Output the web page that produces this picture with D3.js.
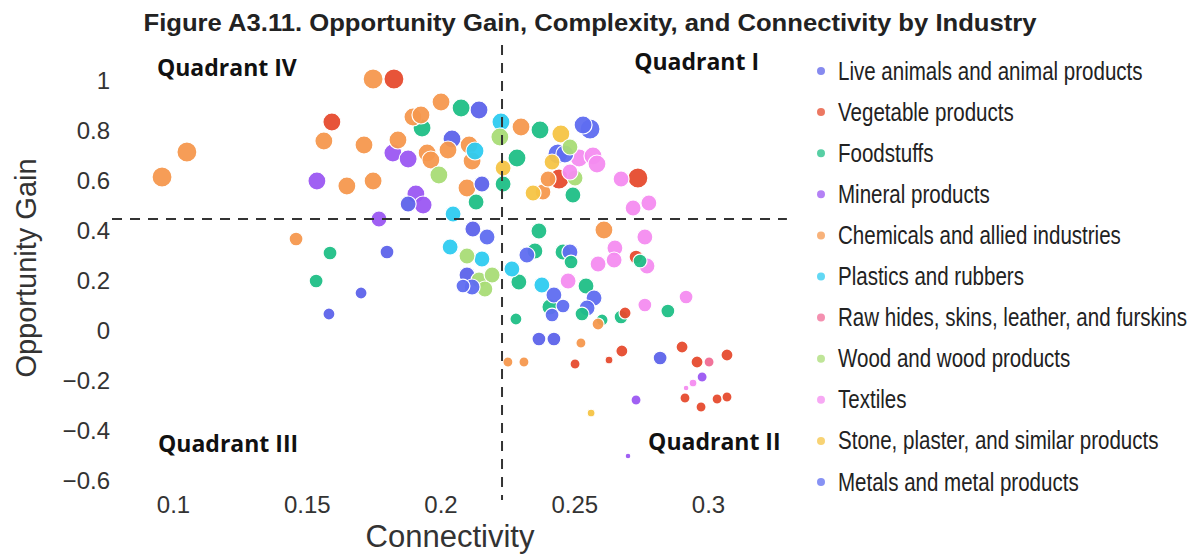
<!DOCTYPE html>
<html>
<head>
<meta charset="utf-8">
<script src="https://cdn.jsdelivr.net/npm/d3@7"></script>
<style>
  body { margin: 0; background: #fff; }
  text { font-family: "Liberation Sans", Arial, sans-serif; }
</style>
</head>
<body>
<svg id="chart"></svg>
<script>
'use strict';

const WIDTH = 1196;
const HEIGHT = 556;

// industries, legend order
const industries = [
    "Live animals and animal products",
    "Vegetable products",
    "Foodstuffs",
    "Mineral products",
    "Chemicals and allied industries",
    "Plastics and rubbers",
    "Raw hides, skins, leather, and furskins",
    "Wood and wood products",
    "Textiles",
    "Stone, plaster, and similar products",
    "Metals and metal products"
];
const industryColors = ["#5d63ea", "#e64b2e", "#1fbf86", "#9b57f2", "#f6984e", "#2ecbf0",
    "#f06b95", "#a9dc76", "#f48cf0", "#f5c445", "#5f6df0"];

// [connectivity, opportunity gain, complexity]
const liveAnimals = [
    [0.2144, 0.884, 0.67], [0.2043, 0.768, 0.67], [0.2155, 0.588, 0.53], [0.1879, 0.508, 0.53],
    [0.2121, 0.408, 0.53], [0.1800, 0.316, 0.40], [0.1703, 0.152, 0.30], [0.1583, 0.068, 0.30],
    [0.2099, 0.224, 0.53], [0.2368, -0.032, 0.40], [0.2424, -0.032, 0.40], [0.2821, -0.108, 0.40]
];
const vegetable = [
    [0.1594, 0.836, 0.67], [0.1826, 1.008, 0.83], [0.2443, 0.608, 0.83], [0.2738, 0.612, 0.83],
    [0.2731, 0.296, 0.40], [0.2690, 0.072, 0.30], [0.2503, -0.132, 0.21], [0.2630, -0.116, 0.13],
    [0.2678, -0.080, 0.30], [0.2903, -0.064, 0.30], [0.2959, -0.124, 0.30], [0.3071, -0.096, 0.30],
    [0.2914, -0.268, 0.21], [0.2974, -0.304, 0.21], [0.3034, -0.272, 0.21], [0.3071, -0.264, 0.21]
];
const foodstuffs = [
    [0.2077, 0.892, 0.67], [0.1931, 0.812, 0.67], [0.2133, 0.516, 0.53], [0.2234, 0.588, 0.53],
    [0.2372, 0.804, 0.67], [0.2286, 0.692, 0.67], [0.2495, 0.544, 0.53], [0.2368, 0.400, 0.53],
    [0.2353, 0.320, 0.53], [0.2458, 0.316, 0.53], [0.2488, 0.276, 0.40], [0.2746, 0.280, 0.40],
    [0.2293, 0.196, 0.53], [0.2544, 0.180, 0.53], [0.2409, 0.096, 0.53], [0.2529, 0.068, 0.40],
    [0.2850, 0.080, 0.40], [0.2282, 0.048, 0.30], [0.2604, 0.044, 0.30], [0.2675, 0.056, 0.40],
    [0.1587, 0.312, 0.40], [0.1535, 0.200, 0.40]
];
const mineral = [
    [0.1538, 0.600, 0.67], [0.1822, 0.712, 0.67], [0.1879, 0.688, 0.67], [0.1908, 0.548, 0.67],
    [0.1935, 0.504, 0.67], [0.1770, 0.448, 0.53], [0.2978, -0.184, 0.21], [0.2731, -0.276, 0.21],
    [0.2701, -0.500, 0.07]
];
const chemicals = [
    [0.0959, 0.616, 0.83], [0.1052, 0.716, 0.83], [0.1564, 0.760, 0.67], [0.1714, 0.744, 0.67],
    [0.1650, 0.580, 0.67], [0.1748, 0.600, 0.67], [0.1748, 1.008, 0.83], [0.2002, 0.916, 0.67],
    [0.1897, 0.856, 0.67], [0.1927, 0.864, 0.67], [0.1841, 0.764, 0.67], [0.1950, 0.712, 0.67],
    [0.1964, 0.684, 0.67], [0.2028, 0.724, 0.67], [0.2107, 0.744, 0.67], [0.2118, 0.680, 0.67],
    [0.2099, 0.572, 0.67], [0.1460, 0.368, 0.40], [0.2301, 0.816, 0.67], [0.2383, 0.556, 0.53],
    [0.2402, 0.608, 0.53], [0.2611, 0.404, 0.67], [0.2589, 0.028, 0.30], [0.2525, -0.048, 0.21],
    [0.2252, -0.124, 0.21], [0.2312, -0.124, 0.21]
];
const plastics = [
    [0.2226, 0.836, 0.67], [0.2129, 0.720, 0.67], [0.2047, 0.468, 0.53], [0.2036, 0.336, 0.53],
    [0.2155, 0.288, 0.53], [0.2267, 0.248, 0.53], [0.2379, 0.184, 0.53]
];
const rawHides = [
    [0.3004, -0.124, 0.21]
];
const wood = [
    [0.2222, 0.776, 0.67], [0.1994, 0.624, 0.67], [0.2484, 0.736, 0.53], [0.2503, 0.612, 0.53],
    [0.2099, 0.300, 0.53], [0.2144, 0.204, 0.53], [0.2193, 0.224, 0.53], [0.2166, 0.168, 0.53]
];
const textiles = [
    [0.2518, 0.692, 0.67], [0.2570, 0.700, 0.67], [0.2585, 0.668, 0.67], [0.2484, 0.636, 0.53],
    [0.2675, 0.608, 0.53], [0.2720, 0.492, 0.53], [0.2779, 0.512, 0.53], [0.2764, 0.376, 0.53],
    [0.2652, 0.332, 0.53], [0.2649, 0.284, 0.53], [0.2589, 0.268, 0.53], [0.2772, 0.260, 0.53],
    [0.2477, 0.200, 0.53], [0.2764, 0.104, 0.40], [0.2918, 0.136, 0.40], [0.2944, -0.208, 0.13],
    [0.2918, -0.228, 0.07]
];
const stone = [
    [0.2450, 0.788, 0.67], [0.2417, 0.676, 0.53], [0.2346, 0.552, 0.53], [0.2234, 0.652, 0.53],
    [0.2563, -0.328, 0.13]
];
const metals = [
    [0.2533, 0.824, 0.67], [0.2559, 0.808, 0.83], [0.2439, 0.708, 0.83], [0.2465, 0.708, 0.67],
    [0.2174, 0.376, 0.53], [0.2084, 0.180, 0.40], [0.2118, 0.176, 0.53], [0.2323, 0.304, 0.53],
    [0.2484, 0.316, 0.53], [0.2424, 0.144, 0.53], [0.2574, 0.132, 0.53], [0.2458, 0.100, 0.40],
    [0.2417, 0.064, 0.40], [0.2548, 0.092, 0.53]
];

const seriesData = [liveAnimals, vegetable, foodstuffs, mineral, chemicals, plastics,
    rawHides, wood, textiles, stone, metals];

const xTicks = [0.1, 0.15, 0.2, 0.25, 0.3];
const yTicks = [1, 0.8, 0.6, 0.4, 0.2, 0, -0.2, -0.4, -0.6];
const xDomain = [0.0772, 0.3295];
const yDomain = [-0.676, 1.144];
const connectivityCut = 0.223;
const gainCut = 0.448;
const quadrants = [
    {label: "Quadrant IV", x: 0.094, y: 1.02},
    {label: "Quadrant I", x: 0.2724, y: 1.044},
    {label: "Quadrant III", x: 0.0944, y: -0.484},
    {label: "Quadrant II", x: 0.2776, y: -0.476}
];

var svg = d3.select("#chart")
    .attr("width", WIDTH)
    .attr("height", HEIGHT);

var x = d3.scaleLinear().domain([0.1, 0.3]).range([173, 708]);
var y = d3.scaleLinear().domain([0, 1]).range([331, 81]);
var r = d3.scaleSqrt().domain([0, 1]).range([0, 11]);

// title
svg.append("text")
    .attr("x", 590)
    .attr("y", 31)
    .attr("text-anchor", "middle")
    .attr("textLength", 893)
    .attr("lengthAdjust", "spacingAndGlyphs")
    .style("font-size", "23.5px")
    .style("font-weight", "bold")
    .style("fill", "#222")
    .text("Figure A3.11. Opportunity Gain, Complexity, and Connectivity by Industry");

// axes (labels only)
var xAxis = svg.append("g")
    .attr("transform", "translate(0," + 493 + ")")
    .call(d3.axisBottom(x).tickValues(xTicks).tickSize(0).tickFormat(d3.format("")));
var yAxis = svg.append("g")
    .attr("transform", "translate(" + 113 + ",0)")
    .call(d3.axisLeft(y).tickValues(yTicks).tickSize(0).tickFormat(d3.format("")));
[xAxis, yAxis].forEach(function (g) {
    g.select(".domain").remove();
    g.selectAll("text")
        .style("font-family", '"Liberation Sans", Arial, sans-serif')
        .style("font-size", "24px")
        .style("fill", "#333");
});

svg.append("text")
    .attr("x", 450)
    .attr("y", 547)
    .attr("text-anchor", "middle")
    .style("font-size", "31px")
    .style("fill", "#333")
    .text("Connectivity");

svg.append("text")
    .attr("transform", "translate(36,268) rotate(-90)")
    .attr("text-anchor", "middle")
    .style("font-size", "29px")
    .style("fill", "#333")
    .text("Opportunity Gain");

// points
var points = [];
seriesData.forEach(function (rows, i) {
    rows.forEach(function (d) {
        points.push({industry: i, connectivity: d[0], gain: d[1], complexity: d[2]});
    });
});
points.sort(function (a, b) {
    return b.complexity - a.complexity;
});

svg.append("g")
    .selectAll("circle")
    .data(points)
    .enter()
    .append("circle")
    .attr("cx", function (d) { return x(d.connectivity); })
    .attr("cy", function (d) { return y(d.gain); })
    .attr("r", function (d) { return r(d.complexity); })
    .style("fill", function (d) { return industryColors[d.industry]; })
    .style("fill-opacity", 0.95)
    .style("stroke", "#fff")
    .style("stroke-width", 1.2);

// quadrant dividers
svg.append("line")
    .attr("x1", x(connectivityCut)).attr("x2", x(connectivityCut))
    .attr("y1", y(yDomain[1])).attr("y2", y(yDomain[0]))
    .style("stroke", "#333").style("stroke-width", 2).style("stroke-dasharray", "10,8");
svg.append("line")
    .attr("x1", x(xDomain[0])).attr("x2", x(xDomain[1]))
    .attr("y1", y(gainCut)).attr("y2", y(gainCut))
    .style("stroke", "#333").style("stroke-width", 2).style("stroke-dasharray", "10,8");

svg.append("g")
    .selectAll("text")
    .data(quadrants)
    .enter()
    .append("text")
    .attr("x", function (d) { return x(d.x); })
    .attr("y", function (d) { return y(d.y); })
    .style("font-family", '"Open Sans", sans-serif')
    .style("font-size", "23px")
    .style("font-weight", "bold")
    .style("fill", "#111")
    .text(function (d) { return d.label; });

// legend
var legend = svg.append("g")
    .attr("transform", "translate(821,71)")
    .selectAll("g")
    .data(industries)
    .enter()
    .append("g")
    .attr("transform", function (d, i) { return "translate(0," + (i * 41.1) + ")"; });
legend.append("circle")
    .attr("r", 4)
    .style("fill", function (d, i) { return industryColors[i]; })
    .style("opacity", 0.75);
// the legend type is set condensed
legend.append("text")
    .attr("transform", "translate(17,8.5) scale(0.79,1)")
    .style("font-size", "26px")
    .style("fill", "#222")
    .text(function (d) { return d; });
</script>
</body>
</html>
